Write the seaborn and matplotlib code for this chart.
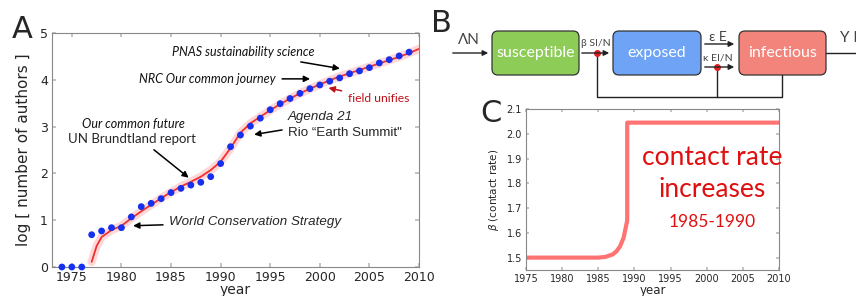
import numpy as np
import pandas as pd
import seaborn as sns
import matplotlib.pyplot as plt
from matplotlib.patches import FancyBboxPatch

# panel A: observed points
years_obs = [1974, 1975, 1976, 1977, 1978, 1979, 1980, 1981, 1982, 1983, 1984,
             1985, 1986, 1987, 1988, 1989, 1990, 1991, 1992, 1993, 1994, 1995,
             1996, 1997, 1998, 1999, 2000, 2001, 2002, 2003, 2004, 2005, 2006,
             2007, 2008, 2009]
log_authors = [0, 0, 0, 0.69, 0.77, 0.84, 0.84, 1.07, 1.29, 1.36, 1.46,
               1.59, 1.68, 1.75, 1.81, 1.93, 2.21, 2.57, 2.82, 3.01, 3.18, 3.36,
               3.49, 3.60, 3.71, 3.81, 3.89, 3.97, 4.04, 4.13, 4.19, 4.26, 4.36,
               4.43, 4.51, 4.59]

# panel A: model fit
years_fit = [1977, 1977.5, 1978, 1979, 1980, 1981, 1982, 1983, 1984, 1985,
             1986, 1987, 1988, 1989, 1990, 1991, 1992, 1993, 1994, 1995, 1996,
             1997, 1998, 1999, 2000, 2001, 2002, 2003, 2004, 2005, 2006, 2007,
             2008, 2009, 2010]
log_fit = [0.11, 0.45, 0.64, 0.79, 0.88, 1.04, 1.19, 1.33, 1.47, 1.60,
           1.72, 1.82, 1.93, 2.07, 2.25, 2.54, 2.87, 3.07, 3.21, 3.35, 3.48,
           3.60, 3.71, 3.81, 3.90, 3.99, 4.07, 4.14, 4.21, 4.28, 4.35, 4.42,
           4.49, 4.57, 4.66]

# panel C: contact rate
years_beta = [1975, 1985, 1986, 1987, 1987.5, 1988, 1988.5, 1989, 1989, 2010]
beta = [1.5, 1.5, 1.503, 1.513, 1.525, 1.545, 1.58, 1.65, 2.045, 2.045]

obs = pd.DataFrame({'year': years_obs, 'value': log_authors})
fit = pd.DataFrame({'year': years_fit, 'value': log_fit})
cr = pd.DataFrame({'year': years_beta, 'beta': beta})

sns.set_theme(style='ticks')
plt.rcParams['font.family'] = ['DejaVu Sans']

fig = plt.figure(figsize=(8.56, 2.96), dpi=100)
W, H = 856, 296

def box(l, t, r, b):
    return [l / W, 1 - b / H, (r - l) / W, (b - t) / H]

# ---------- panel A ----------
ax = fig.add_axes(box(52, 33, 419, 267))
sns.lineplot(data=fit, x='year', y='value', ax=ax, color='#ffb0b0',
             lw=6, alpha=0.5, sort=False, estimator=None)
sns.lineplot(data=fit, x='year', y='value', ax=ax, color='#f03030',
             lw=1.3, sort=False, estimator=None)
sns.scatterplot(data=obs, x='year', y='value', ax=ax, color='#1530ee',
                s=24, edgecolor='none', zorder=5, clip_on=False)
ax.set_xlim(1973, 2010)
ax.set_ylim(0, 5)
ax.set_xticks(range(1975, 2011, 5))
ax.set_yticks(range(0, 6))
ax.tick_params(direction='in', top=True, right=True, labelsize=9,
               length=3, color='#bbbbbb', pad=3)
for s in ax.spines.values():
    s.set_color('#888888')
    s.set_linewidth(0.8)
ax.set_xlabel('year', fontsize=10, labelpad=-1)
ax.set_ylabel('log [ number of authors ]', fontsize=11, labelpad=6)

arr = dict(arrowstyle='-|>', color='black', lw=1.1, mutation_scale=9)
ital = dict(family='Lato', style='italic', fontsize=9, color='#111111')
ax.annotate('PNAS sustainability science', xy=(2002.3, 4.23), xytext=(1992.3, 4.59),
            ha='center', va='center', arrowprops=arr, **ital)
ax.annotate('NRC Our common journey', xy=(1999.3, 4.02), xytext=(1988.7, 4.02),
            ha='center', va='center', arrowprops=arr, **ital)
ax.annotate('field unifies', xy=(2000.6, 3.84), xytext=(2002.8, 3.59),
            ha='left', va='center', family='Lato', fontsize=8.7, color='#c0101a',
            arrowprops=dict(arrowstyle='-|>', color='#c0101a', lw=1.1, mutation_scale=9))
ax.text(1981.2, 3.06, 'Our common future', ha='center', va='center', **ital)
ax.annotate('UN Brundtland report', xy=(1987.0, 1.87), xytext=(1981.1, 2.74),
            ha='center', va='center', family='Lato', fontsize=9.5,
            arrowprops=dict(arr, relpos=(0.62, 0.0)))
ax.text(1996.8, 3.21, 'Agenda 21', ha='left', va='center',
        family='Liberation Sans', style='italic', fontsize=9.6)
ax.annotate('Rio \u201cEarth Summit"', xy=(1993.1, 2.82), xytext=(1996.8, 2.86),
            ha='left', va='center', family='Liberation Sans', fontsize=9.6,
            arrowprops=dict(arr, relpos=(0.0, 0.85)))
ax.annotate('World Conservation Strategy', xy=(1980.9, 0.88), xytext=(1984.8, 0.96),
            ha='left', va='center', family='Liberation Sans', style='italic',
            fontsize=9.6, arrowprops=arr)

# ---------- panel C ----------
axc = fig.add_axes(box(526, 109, 779, 270))
sns.lineplot(data=cr, x='year', y='beta', ax=axc, color='#ff5a5a',
             lw=3, alpha=0.85, sort=False, estimator=None)
axc.set_xlim(1975, 2010)
axc.set_ylim(1.45, 2.1)
axc.set_xticks(range(1975, 2011, 5))
axc.set_yticks([1.5, 1.6, 1.7, 1.8, 1.9, 2.0, 2.1])
axc.set_yticklabels(['1.5', '1.6', '1.7', '1.8', '1.9', '2.0', '2.1'])
axc.tick_params(direction='in', top=True, right=True, labelsize=7,
                length=2.5, color='#bbbbbb', pad=3)
for s in axc.spines.values():
    s.set_color('#888888')
    s.set_linewidth(0.8)
axc.set_xlabel('year', fontsize=8.5, labelpad=0)
axc.set_ylabel(r'$\beta$ (contact rate)', fontsize=7.5, labelpad=4)
txt = dict(family='Lato', color='#e01010', ha='center', va='center')
axc.text(2000.8, 1.906, 'contact rate', fontsize=19, **txt)
axc.text(2000.8, 1.777, 'increases', fontsize=19, **txt)
axc.text(2000.8, 1.644, '1985-1990', fontsize=12.5, **txt)

# ---------- overlay: panel B and letters ----------
ov = fig.add_axes([0, 0, 1, 1], zorder=-1)
ov.set_xlim(0, W)
ov.set_ylim(H, 0)
ov.axis('off')

ov.text(22, 29, 'A', fontsize=22, ha='center', va='center')
ov.text(441, 23, 'B', fontsize=22, ha='center', va='center')
ov.text(491, 113, 'C', fontsize=22, ha='center', va='center')

boxes = [('susceptible', 492, 579, '#8dcc56'),
         ('exposed', 613, 701, '#6ea3f6'),
         ('infectious', 739, 826, '#f2847b')]
for name, l, r, c in boxes:
    ov.add_patch(FancyBboxPatch((l, 31), r - l, 44, boxstyle='round,pad=0,rounding_size=6',
                                fc=c, ec='#333333', lw=0.9))
    ov.text((l + r) / 2, 53, name, color='white', fontsize=11.5, family='Lato',
            ha='center', va='center')

ar = dict(arrowstyle='-|>', color='#222222', lw=1.0, mutation_scale=8)
ov.annotate('', xy=(491, 53), xytext=(450, 53), arrowprops=ar)
ov.annotate('', xy=(612, 53), xytext=(579, 53), arrowprops=ar)
ov.annotate('', xy=(737, 44), xytext=(702, 44), arrowprops=ar)
ov.annotate('', xy=(737, 67), xytext=(702, 67), arrowprops=ar)
ov.plot([826, 856], [53, 53], color='#222222', lw=1.0)
ov.plot([782, 782, 597, 597], [75, 97, 97, 53], color='#222222', lw=1.0)
ov.plot([717, 717], [97, 67], color='#222222', lw=1.0)
ov.plot([597, 717], [53, 67], 'o', color='#e02020', ms=4)

lab = dict(family='Lato', color='#444444', ha='center', va='center')
ov.text(469, 40, '\u039bN', fontsize=11, **lab)
ov.text(596, 44, '\u03b2 SI/N', fontsize=7.5, **lab)
ov.text(718, 37, '\u03b5 E', fontsize=10, **lab)
ov.text(718, 58, '\u03ba EI/N', fontsize=7.5, **lab)
ov.text(840, 38, '\u03a5 I', fontsize=11, ha='left', va='center',
        family='Lato', color='#444444', clip_on=False)

fig.savefig('out.png', dpi=100)
